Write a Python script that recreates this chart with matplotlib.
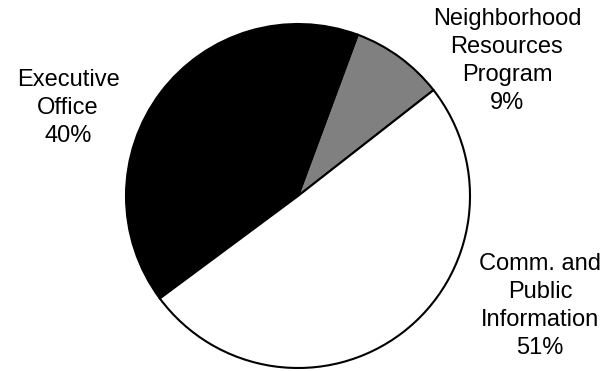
import matplotlib
matplotlib.use("Agg")
import matplotlib.pyplot as plt

# slice shares; labels show the rounded percent
names = ["Neighborhood\nResources\nProgram", "Executive\nOffice", "Comm. and\nPublic\nInformation"]
shares = [8.8, 40.8, 50.4]
pct_text = ["9%", "40%", "51%"]
colors = ["#808080", "#000000", "#ffffff"]

# label anchor points (pie radius = 1)
label_xy = [(1.215, 0.785), (-1.337, 0.51), (1.407, -0.64)]


def main():
    plt.rcParams["font.family"] = ["Liberation Sans", "DejaVu Sans"]
    fig = plt.figure(figsize=(6.12, 3.71), dpi=100)
    ax = fig.add_axes([0, 0, 1, 1])

    ax.pie(
        shares,
        colors=colors,
        startangle=38,
        counterclock=True,
        wedgeprops=dict(edgecolor="black", linewidth=1.5),
    )

    for name, pct, (x, y) in zip(names, pct_text, label_xy):
        ax.text(x, y, f"{name}\n{pct}", ha="center", va="center",
                fontsize=17, linespacing=1.36, color="black")

    r_px = 172.0
    cx, cy = 298.0, 196.0
    ax.set_xlim(-cx / r_px, (612 - cx) / r_px)
    ax.set_ylim(-(371 - cy) / r_px, cy / r_px)
    ax.set_aspect("auto")
    ax.axis("off")

    fig.savefig("out.png", dpi=100, facecolor="white")


if __name__ == "__main__":
    main()
